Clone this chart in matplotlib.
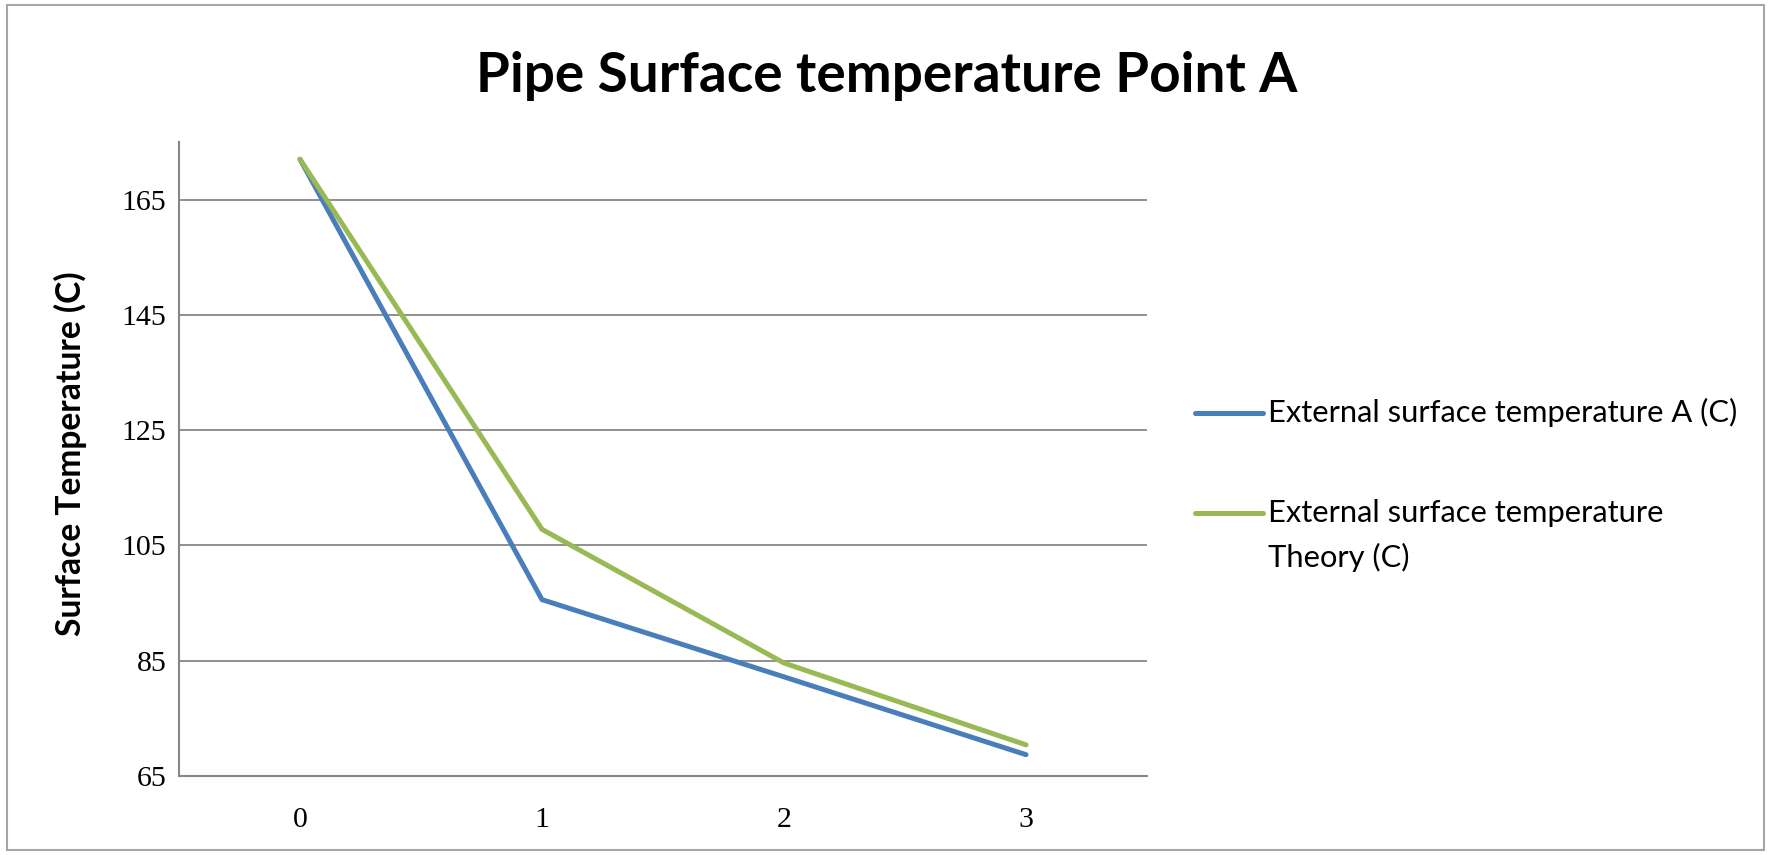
import matplotlib
matplotlib.use("Agg")
import matplotlib.pyplot as plt
from matplotlib.lines import Line2D
from matplotlib.patches import Rectangle

# ---- data ----
x_values = [0, 1, 2, 3]
x_labels = ["0", "1", "2", "3"]
measured = [172.0, 95.6, 82.2, 68.7]
theory = [172.0, 107.8, 84.6, 70.4]
y_ticks = [65, 85, 105, 125, 145, 165]
title = "Pipe Surface temperature Point A"
y_label = "Surface Temperature (C)"
label_measured = "External surface temperature A (C)"
label_theory_1 = "External surface temperature"
label_theory_2 = "Theory (C)"

W, H = 1777, 855
BLUE = "#4A7EBB"
GREEN = "#98B954"
GRID = "#878787"
SANS = ["Lato", "DejaVu Sans"]
SERIF = ["Liberation Serif", "DejaVu Serif"]

fig = plt.figure(figsize=(W / 100, H / 100), dpi=100)
fig.patch.set_facecolor("white")

def fx(px):
    return px / W

def fy(py):
    return 1 - py / H

left, right, top, bottom = 179, 1147, 142, 776
ax = fig.add_axes([fx(left), fy(bottom), (right - left) / W, (bottom - top) / H])
ax.plot(x_values, measured, color=BLUE, lw=3.6, solid_capstyle="round", solid_joinstyle="round", zorder=3)
ax.plot(x_values, theory, color=GREEN, lw=3.6, solid_capstyle="round", solid_joinstyle="round", zorder=3)
ax.set_xlim(-0.5, 3.5)
ax.set_ylim(65, 175)
ax.set_yticks(y_ticks)
ax.set_yticklabels([str(v) for v in y_ticks])
ax.set_xticks(x_values)
ax.set_xticklabels(x_labels)
ax.grid(axis="y", color=GRID, lw=1.3)
ax.set_axisbelow(True)
for s in ["top", "right"]:
    ax.spines[s].set_visible(False)
for s in ["left", "bottom"]:
    ax.spines[s].set_color(GRID)
    ax.spines[s].set_linewidth(1.5)
ax.tick_params(length=0, labelsize=21.5, pad=9)
ax.tick_params(axis="x", pad=22)
for t in ax.get_xticklabels() + ax.get_yticklabels():
    t.set_fontfamily(SERIF)

renderer = fig.canvas.get_renderer()

def fit(t, width):
    ext = t.get_window_extent(renderer)
    w = ext.width if t.get_rotation() == 0 else ext.height
    t.set_fontsize(t.get_fontsize() * width / w)

# title
tt = fig.text(fx(887), fy(92), title, ha="center", va="baseline", fontsize=40,
              fontweight="bold", family=SANS)
fit(tt, 821)

# y label
yl = fig.text(fx(70), fy(454), y_label, ha="center", va="center", rotation=90,
              fontsize=22, fontweight="bold", family=SANS)
fit(yl, 365)

# legend
l1 = fig.text(fx(1268), fy(422), label_measured, ha="left", va="baseline", fontsize=22, family=SANS)
fit(l1, 468)
fs = l1.get_fontsize()
fig.text(fx(1268), fy(522), label_theory_1, ha="left", va="baseline", fontsize=fs, family=SANS)
fig.text(fx(1268), fy(567), label_theory_2, ha="left", va="baseline", fontsize=fs, family=SANS)
fig.add_artist(Line2D([fx(1195), fx(1263)], [fy(413), fy(413)], color=BLUE, lw=3.6,
                      solid_capstyle="round", transform=fig.transFigure))
fig.add_artist(Line2D([fx(1195), fx(1263)], [fy(513), fy(513)], color=GREEN, lw=3.6,
                      solid_capstyle="round", transform=fig.transFigure))

# outer border
fig.add_artist(Rectangle((fx(7), fy(850)), fx(1764) - fx(7), fy(5) - fy(850),
                         transform=fig.transFigure, fill=False, edgecolor="#A6A6A6", lw=1.5))

fig.savefig("out.png", dpi=100)
